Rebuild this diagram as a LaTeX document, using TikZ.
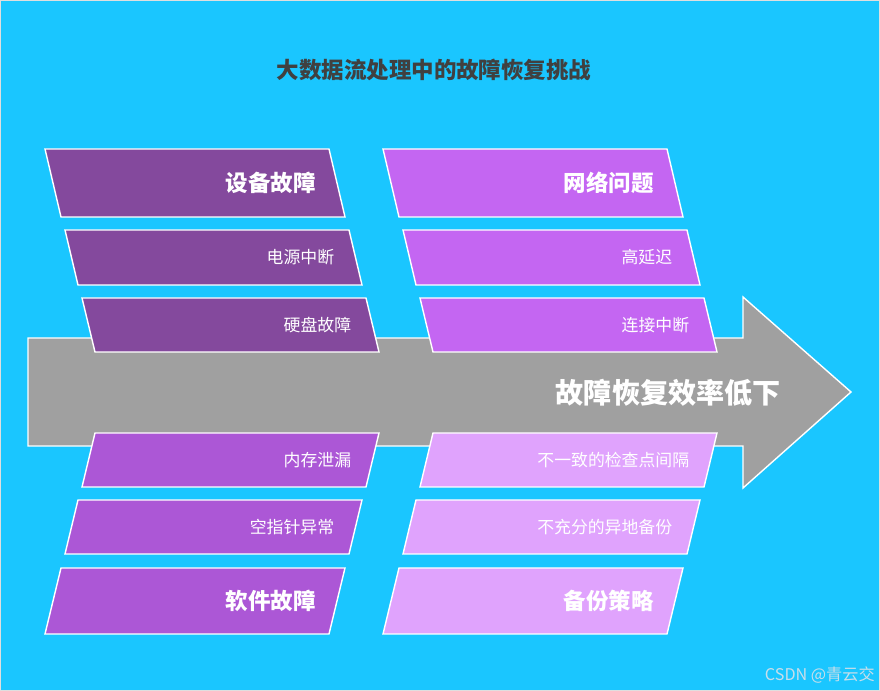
\documentclass[tikz,border=0pt]{standalone}
\usepackage{fontspec}
\setmainfont{Noto Sans CJK SC}
\usetikzlibrary{positioning,calc}
\definecolor{skyblue}{RGB}{26, 198, 255}
\definecolor{shaftgray}{RGB}{160, 160, 160}
\definecolor{titlegray}{RGB}{64, 64, 64}
\definecolor{hwpurple}{RGB}{132, 73, 157}
\definecolor{netviolet}{RGB}{196, 102, 242}
\definecolor{swpurple}{RGB}{172, 87, 214}
\definecolor{bkplilac}{RGB}{224, 163, 253}
\definecolor{marktext}{RGB}{200, 222, 234}

% slanted cause box: name, top-left x, bottom-left x, top y, bottom y, fill, label style, text
\newcommand{\fishbox}[8]{%
    \draw[boxline, fill=#6] (#2,#4) -- (#2+284,#4) -- (#3+284,#5) -- (#3,#5) -- cycle;
    \node[#7] (#1) at ({(#2+#3)/2+263},{(#4+#5)/2}) {#8};
}

\begin{document}
\begin{tikzpicture}[
    x=0.25mm, y=-0.25mm,
    % Box outline
    boxline/.style={
        draw=white,
        line width=1pt,
        line join=miter
    },
    % Category labels
    catlabel/.style={
        anchor=east,
        inner sep=0pt,
        text=white,
        font=\fontsize{16}{19}\selectfont\bfseries
    },
    % Cause labels
    causelabel/.style={
        anchor=east,
        inner sep=0pt,
        text=white,
        font=\fontsize{12}{14}\selectfont
    },
    effectlabel/.style={
        anchor=east,
        inner sep=0pt,
        text=white,
        font=\fontsize{20}{24}\selectfont\bfseries
    }
]

    % =========================================================================
    % 1. BACKGROUND AND TITLE
    % =========================================================================
    \useasboundingbox (0,0) rectangle (880,691);
    \draw[fill=skyblue, draw=gray!25, line width=0.6pt] (0.5,0.5) rectangle (879.5,690.5);
    \node[font=\fontsize{16}{19}\selectfont\bfseries, text=titlegray] (title) at (434,70)
        {大数据流处理中的故障恢复挑战};

    % =========================================================================
    % 2. SPINE ARROW (Effect)
    % =========================================================================
    \draw[boxline, fill=shaftgray] (28,338) -- (743,338) -- (743,297) -- (851,392)
        -- (743,488) -- (743,446) -- (28,446) -- cycle;
    \node[effectlabel] (effect) at (781,393) {故障恢复效率低下};

    % =========================================================================
    % 3. UPPER CAUSES
    % =========================================================================
    % Hardware faults (left)
    \fishbox{hw}{45}{61}{149}{217}{hwpurple}{catlabel}{设备故障}
    \fishbox{hw_power}{65}{78}{230}{285}{hwpurple}{causelabel}{电源中断}
    \fishbox{hw_disk}{82}{95}{298}{352}{hwpurple}{causelabel}{硬盘故障}

    % Network problems (right)
    \fishbox{net}{383}{399}{149}{217}{netviolet}{catlabel}{网络问题}
    \fishbox{net_latency}{403}{416}{230}{285}{netviolet}{causelabel}{高延迟}
    \fishbox{net_drop}{420}{433}{298}{352}{netviolet}{causelabel}{连接中断}

    % =========================================================================
    % 4. LOWER CAUSES
    % =========================================================================
    % Software faults (left)
    \fishbox{sw_leak}{95}{82}{433}{487}{swpurple}{causelabel}{内存泄漏}
    \fishbox{sw_null}{78}{65}{500}{554}{swpurple}{causelabel}{空指针异常}
    \fishbox{sw}{61}{45}{568}{634}{swpurple}{catlabel}{软件故障}

    % Backup strategy (right)
    \fishbox{bkp_ckpt}{433}{420}{433}{487}{bkplilac}{causelabel}{不一致的检查点间隔}
    \fishbox{bkp_remote}{416}{403}{500}{554}{bkplilac}{causelabel}{不充分的异地备份}
    \fishbox{bkp}{399}{383}{568}{634}{bkplilac}{catlabel}{备份策略}

    % Watermark
    \node[anchor=east, inner sep=0pt, text=marktext, font=\fontsize{11.5}{13}\selectfont]
        (mark) at (875,675) {CSDN @青云交};

\end{tikzpicture}
\end{document}
